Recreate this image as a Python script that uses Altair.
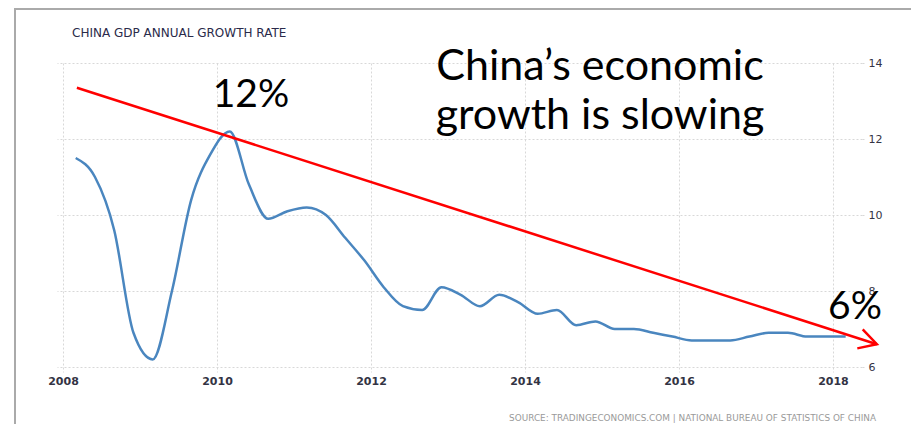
import altair as alt
import pandas as pd

# ---- data ----
quarters = [f"{y}Q{q}" for y in range(2008, 2019) for q in range(1, 5)][:41]
gdp_growth = [11.5, 11.0, 9.6, 6.9,
              6.2, 8.0, 10.4, 11.6,
              12.2, 10.8, 9.9, 10.1,
              10.2, 10.0, 9.4, 8.8,
              8.1, 7.6, 7.5, 8.1,
              7.9, 7.6, 7.9, 7.7,
              7.4, 7.5, 7.1, 7.2,
              7.0, 7.0, 6.9, 6.8,
              6.7, 6.7, 6.7, 6.8,
              6.9, 6.9, 6.8, 6.8,
              6.8]
trend_x = [2008.18, 2018.57]
trend_y = [13.35, 6.6]
head_x = [2018.386, 2018.57, 2018.316]
head_y = [6.99, 6.6, 6.49]
x_ticks = [2008, 2010, 2012, 2014, 2016, 2018]
y_ticks = [6, 8, 10, 12, 14]

def q_to_year(q):
    return int(q[:4]) + (int(q[-1]) - 1) * 0.25 + 0.165

df = pd.DataFrame({"quarter": quarters,
                   "t": [q_to_year(q) for q in quarters],
                   "gdp": gdp_growth})
trend = pd.DataFrame({"t": trend_x, "v": trend_y, "i": range(len(trend_x))})
head = pd.DataFrame({"t": head_x, "v": head_y, "i": range(len(head_x))})
one = pd.DataFrame({"k": [0]})

W, H = 805, 304
grid_col = "#d8d8d8"

xscale = alt.Scale(domain=[2007.922, 2018.377], nice=False, zero=False)
yscale = alt.Scale(domain=[6, 14], nice=False, zero=False)

xaxis = alt.Axis(values=x_ticks, format="d", title=None, domain=False,
                 grid=True, gridColor=grid_col, gridDash=[2, 2], gridWidth=1,
                 ticks=True, tickColor=grid_col, tickDash=[2, 2], tickSize=5,
                 labelPadding=3, labelFont="DejaVu Sans", labelFontSize=11,
                 labelFontWeight="bold", labelColor="#333344")
yaxis = alt.Axis(values=y_ticks, orient="right", title=None, domain=False,
                 grid=True, gridColor=grid_col, gridDash=[2, 2], gridWidth=1,
                 ticks=True, tickColor=grid_col, tickDash=[2, 2], tickSize=3,
                 labelPadding=3, labelFont="DejaVu Sans", labelFontSize=11,
                 labelColor="#333344")

frame = alt.Chart(one).mark_rect(fillOpacity=0, stroke="#aaaaaa", strokeWidth=2).encode(
    x=alt.value(-42), x2=alt.value(W + 200), y=alt.value(-54), y2=alt.value(H + 200))

line = alt.Chart(df).mark_line(color="#4a86bf", strokeWidth=2.5, interpolate="monotone").encode(
    x=alt.X("t:Q", scale=xscale, axis=xaxis),
    y=alt.Y("gdp:Q", scale=yscale, axis=yaxis),
)

trend_line = alt.Chart(trend).mark_line(color="#ff0000", strokeWidth=2.5).encode(
    x=alt.X("t:Q", scale=xscale), y=alt.Y("v:Q", scale=yscale), order="i:Q")
head_line = alt.Chart(head).mark_line(color="#ff0000", strokeWidth=2.5).encode(
    x=alt.X("t:Q", scale=xscale), y=alt.Y("v:Q", scale=yscale), order="i:Q")

def label(text, x, y, **kw):
    return alt.Chart(one).mark_text(**kw).encode(
        x=alt.value(x), y=alt.value(y), text=alt.value(text))

title = label("CHINA GDP ANNUAL GROWTH RATE", 15, -26.5, align="left", baseline="alphabetic",
              font="DejaVu Sans", fontSize=12, color="#2a2a4a")
source = label("SOURCE: TRADINGECONOMICS.COM | NATIONAL BUREAU OF STATISTICS OF CHINA", 819, 358,
               align="right", baseline="alphabetic", font="DejaVu Sans", fontSize=8.9, color="#9a9a9a")
big = alt.Chart(one).mark_text(align="center", baseline="alphabetic", font="Lato", fontSize=43,
                               color="#000000", lineHeight=49).encode(
    x=alt.value(543), y=alt.value(17),
    text=alt.value(["China\u2019s economic", "growth is slowing"]))
twelve = label("12%", 194, 43.7, align="center", baseline="alphabetic", font="Lato",
               fontSize=39, color="#000000")
six = label("6%", 798, 256, align="center", baseline="alphabetic", font="Lato",
            fontSize=39, color="#000000")

chart = alt.layer(frame, line, trend_line, head_line, title, source, big, twelve, six).properties(
    width=W, height=H,
    autosize=alt.AutoSizeParams(type="none"),
    padding={"left": 49, "top": 55, "right": 49, "bottom": 57},
    background="white",
).configure_view(strokeWidth=0)

chart.save("out.html", embed_options={"renderer": "svg", "actions": False})
